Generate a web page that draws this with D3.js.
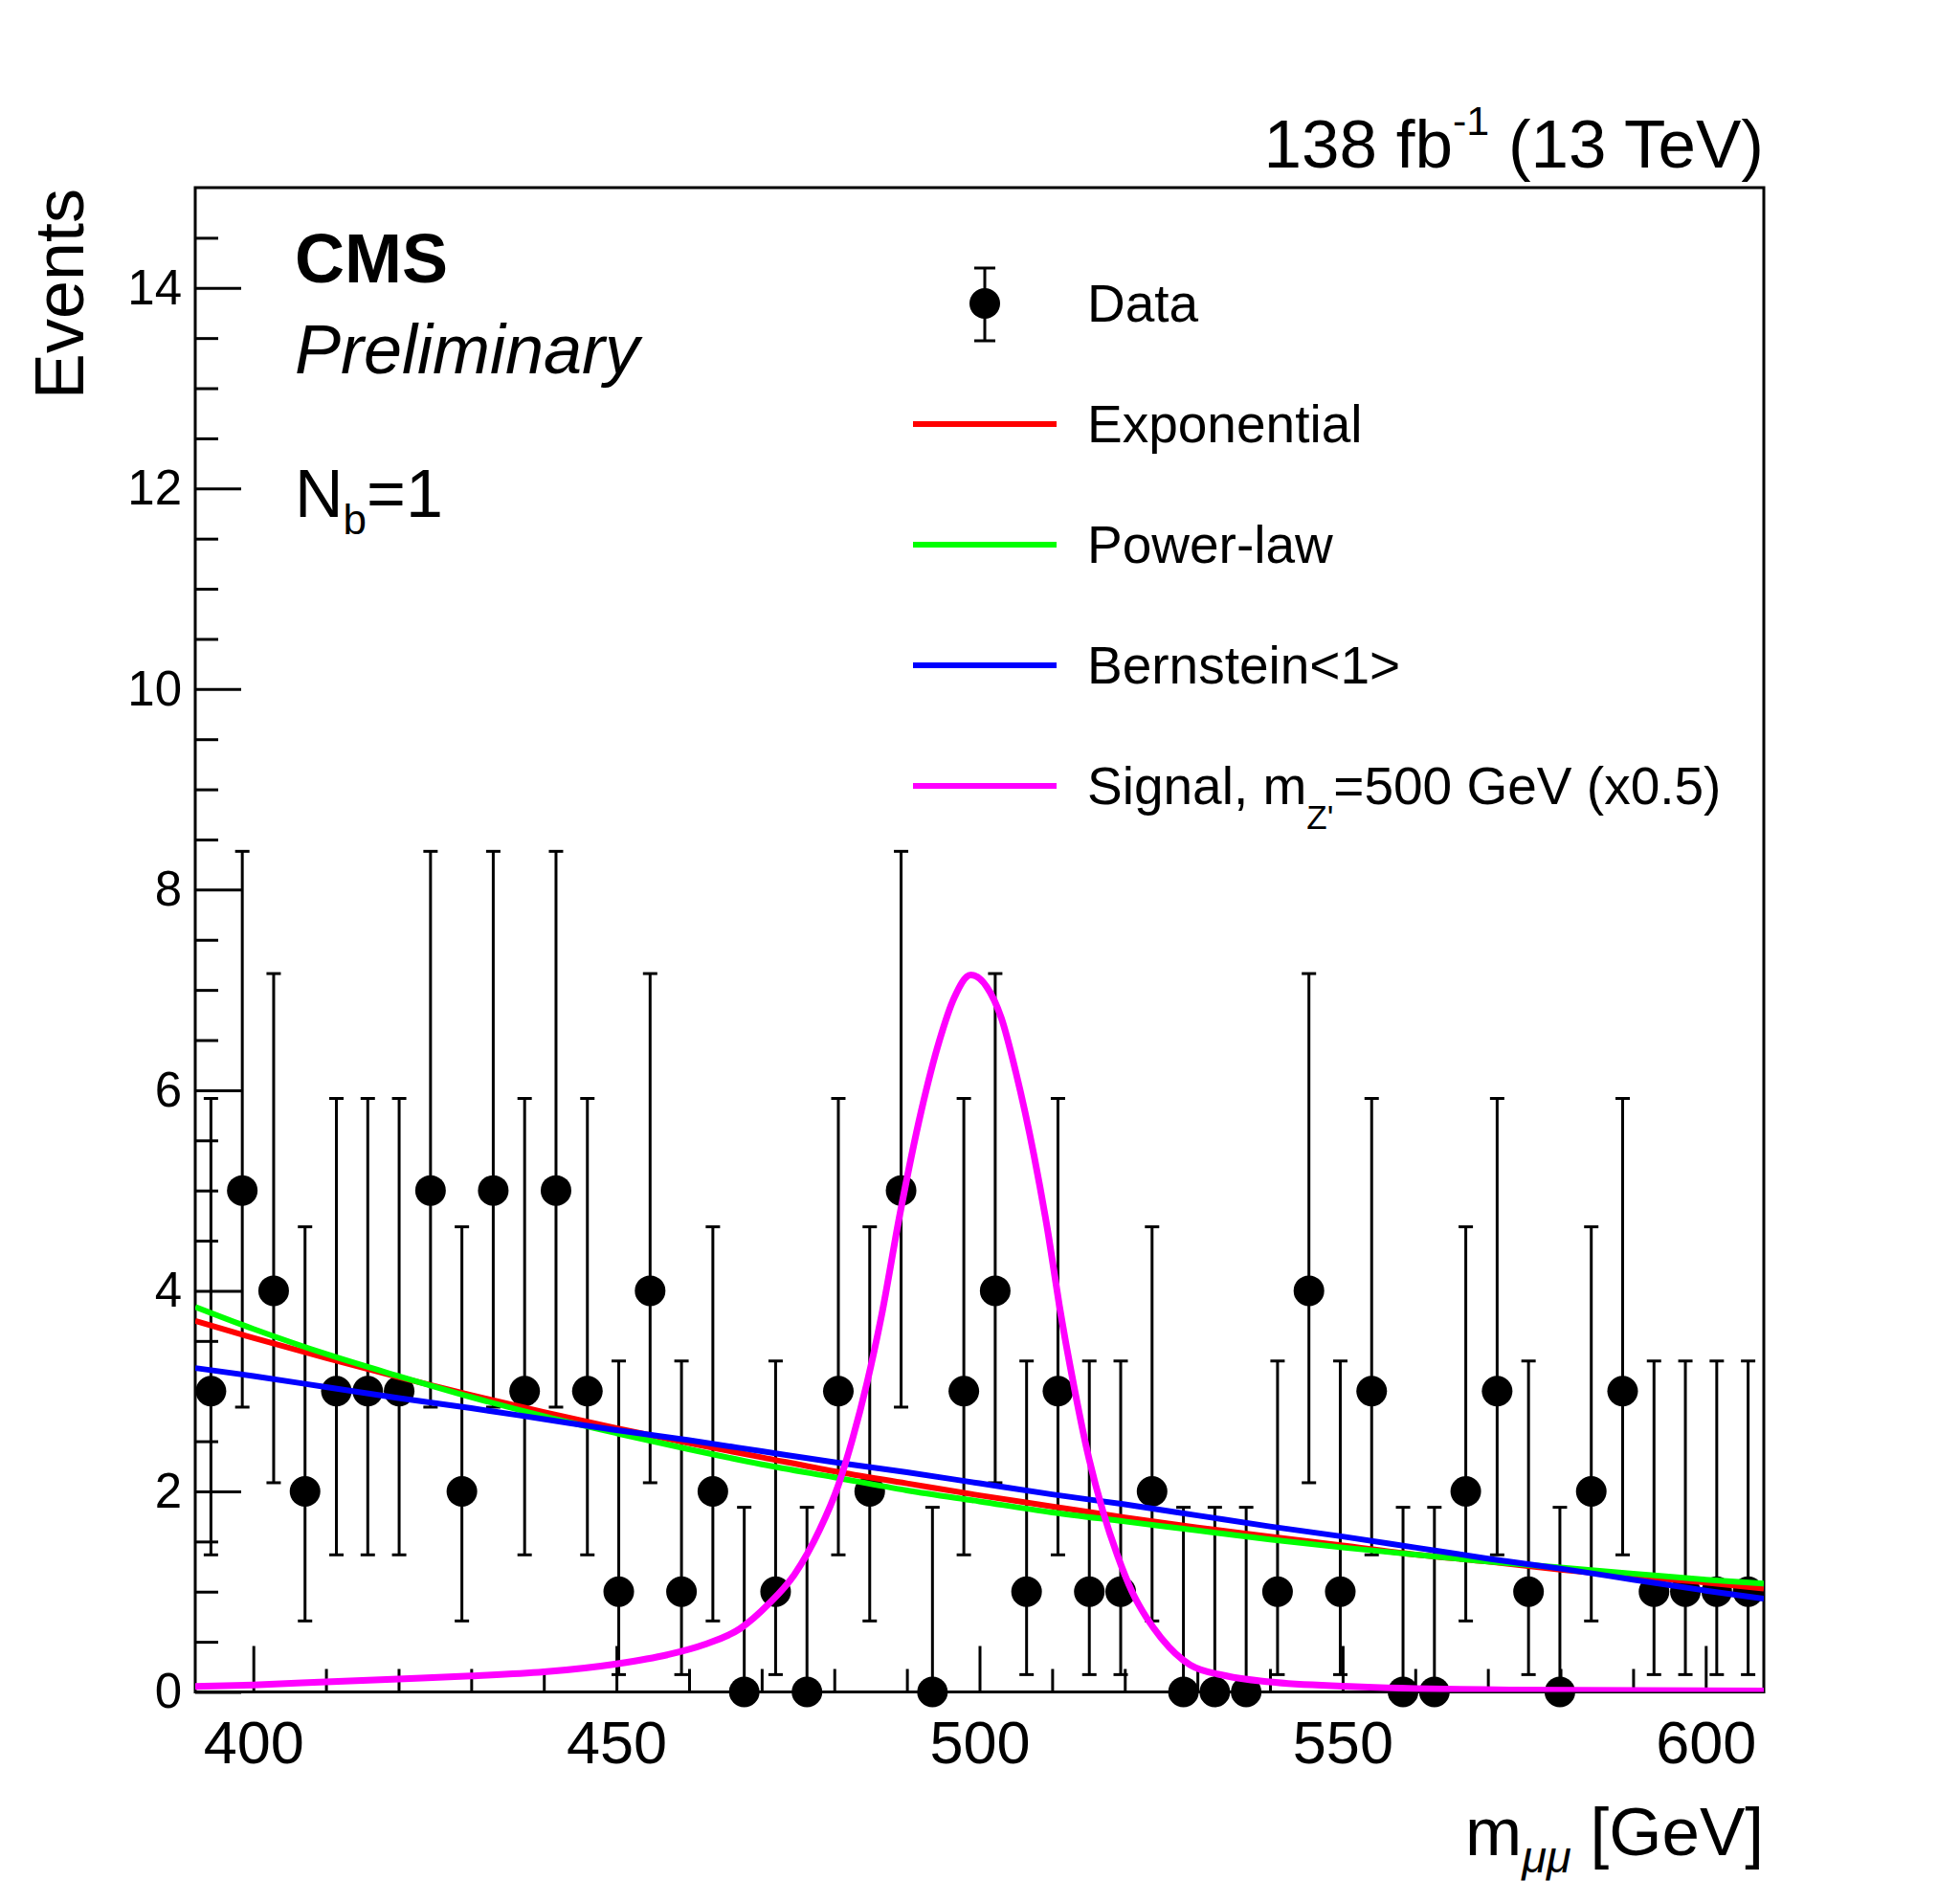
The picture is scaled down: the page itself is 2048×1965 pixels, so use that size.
<!DOCTYPE html>
<html><head><meta charset="utf-8">
<script src="https://cdn.jsdelivr.net/npm/d3@7"></script>
<style>
body{margin:0;background:#fff}
svg{display:block}
text{font-family:"Liberation Sans",Arimo,Arial,Helvetica,sans-serif;fill:#000}
</style>
</head><body>
<script>
// ---------------- data ----------------
const binCenters = [394.16,398.48,402.80,407.12,411.44,415.76,420.08,424.40,428.72,433.04,
  437.36,441.68,446.00,450.32,454.64,458.96,463.28,467.60,471.92,476.24,
  480.56,484.88,489.20,493.52,497.84,502.16,506.48,510.80,515.12,519.44,
  523.76,528.08,532.40,536.72,541.04,545.36,549.68,554.00,558.32,562.64,
  566.96,571.28,575.60,579.92,584.24,588.56,592.88,597.20,601.52,605.84];
const counts = [3,5,4,2,3,3,3,5,2,5, 3,5,3,1,4,1,2,0,1,0, 3,2,5,0,3,4,1,3,1,1,
  2,0,0,0,1,4,1,3,0,0, 2,3,1,0,2,3,1,1,1,1];
// Poisson (Garwood) 68% interval, indexed by observed count
const poissonLow  = [0, 0.173, 0.708, 1.367, 2.086, 2.840];
const poissonHigh = [1.841, 3.300, 4.638, 5.918, 7.163, 8.382];

const bgMass   = [392,400,410,420,430,440,450,460,470,480,490,500,510,520,530,540,550,560,570,580,590,600,608];
const expVals  = [3.70,3.53,3.33,3.14,2.96,2.79,2.63,2.48,2.34,2.20,2.08,1.96,1.85,1.74,1.64,1.55,1.46,1.37,1.30,1.22,1.15,1.09,1.03];
const powVals  = [3.84,3.62,3.37,3.15,2.94,2.75,2.58,2.42,2.27,2.14,2.01,1.90,1.79,1.70,1.61,1.52,1.44,1.37,1.30,1.24,1.18,1.12,1.08];
const bernVals = [3.23,3.15,3.04,2.93,2.83,2.72,2.61,2.51,2.40,2.29,2.19,2.08,1.97,1.87,1.76,1.65,1.55,1.44,1.33,1.23,1.12,1.01,0.93];

const sigMass = [392,400,410,420,430,440,450,457,462,467,471,474.5,478,480.5,482.5,484.5,486.5,489,492,494.5,496.5,498.8,
  501,503,505,507.5,509.5,511,513,515,517,519,521,523,525,529,534,540,551,573,608];
const sigVals = [0.055,0.07,0.10,0.13,0.16,0.20,0.28,0.37,0.47,0.63,0.88,1.17,1.62,2.05,2.52,3.08,3.75,4.75,5.80,6.50,6.92,7.15,
  7.03,6.72,6.18,5.35,4.55,3.85,3.05,2.35,1.80,1.36,1.00,0.74,0.54,0.27,0.16,0.10,0.055,0.02,0.01];

const xRange = [392, 608];
const yRange = [0, 15];
const xMajorTicks = [400,450,500,550,600];
const xMinorTicks = [410,420,430,440,460,470,480,490,510,520,530,540,560,570,580,590];
const yMajorTicks = [0,2,4,6,8,10,12,14];
const yMinorTicks = [0.5,1,1.5,2.5,3,3.5,4.5,5,5.5,6.5,7,7.5,8.5,9,9.5,10.5,11,11.5,12.5,13,13.5,14.5];

const series = [
  {name:"Exponential", vals:expVals,  color:"#ff0000"},
  {name:"Power-law",   vals:powVals,  color:"#00ff00"},
  {name:"Bernstein<1>",vals:bernVals, color:"#0000ff"}
];

// ---------------- layout ----------------
const W=2048, H=1965;
const L=204, R=1843, T=196, B=1767.5;
const svg = d3.select("body").append("svg").attr("width",W).attr("height",H);
svg.append("rect").attr("width",W).attr("height",H).attr("fill","#fff");

const x = d3.scaleLinear().domain(xRange).range([L,R]);
const y = d3.scaleLinear().domain(yRange).range([B,T]);

svg.append("defs").append("clipPath").attr("id","clip")
  .append("rect").attr("x",L).attr("y",T).attr("width",R-L).attr("height",B-T);

// frame
svg.append("rect").attr("x",L).attr("y",T).attr("width",R-L).attr("height",B-T)
  .attr("fill","none").attr("stroke","#000").attr("stroke-width",3);

// axes (ticks pointing inward)
function styleAxis(g){
  g.select(".domain").remove();
  g.selectAll(".tick line").attr("stroke","#000").attr("stroke-width",3);
}
const gxMaj = svg.append("g").attr("transform",`translate(0,${B})`)
  .call(d3.axisBottom(x).tickValues(xMajorTicks).tickSize(-48).tickPadding(30).tickFormat(d3.format("d")));
styleAxis(gxMaj);
gxMaj.selectAll(".tick text").attr("font-size",63).attr("font-family",null).attr("fill","#000");
const gxMin = svg.append("g").attr("transform",`translate(0,${B})`)
  .call(d3.axisBottom(x).tickValues(xMinorTicks).tickSize(-24).tickFormat(""));
styleAxis(gxMin);

const gyMaj = svg.append("g").attr("transform",`translate(${L},0)`)
  .call(d3.axisLeft(y).tickValues(yMajorTicks).tickSize(-48).tickPadding(14).tickFormat(d3.format("d")));
styleAxis(gyMaj);
gyMaj.selectAll(".tick text").attr("font-size",51).attr("font-family",null).attr("fill","#000");
const gyMin = svg.append("g").attr("transform",`translate(${L},0)`)
  .call(d3.axisLeft(y).tickValues(yMinorTicks).tickSize(-24).tickFormat(""));
styleAxis(gyMin);

// ---------------- data points ----------------
const data = binCenters.map((m,i)=>({m, n:counts[i], lo:poissonLow[counts[i]], hi:poissonHigh[counts[i]]}));
const gd = svg.append("g");
gd.selectAll("line.eb").data(data).enter().append("line")
  .attr("x1",d=>x(d.m)).attr("x2",d=>x(d.m))
  .attr("y1",d=>y(d.lo)).attr("y2",d=>y(d.hi))
  .attr("stroke","#000").attr("stroke-width",3);
gd.selectAll("line.capH").data(data).enter().append("line")
  .attr("x1",d=>x(d.m)-7.5).attr("x2",d=>x(d.m)+7.5)
  .attr("y1",d=>y(d.hi)).attr("y2",d=>y(d.hi))
  .attr("stroke","#000").attr("stroke-width",3);
gd.selectAll("line.capL").data(data.filter(d=>d.n>0)).enter().append("line")
  .attr("x1",d=>x(d.m)-7.5).attr("x2",d=>x(d.m)+7.5)
  .attr("y1",d=>y(d.lo)).attr("y2",d=>y(d.lo))
  .attr("stroke","#000").attr("stroke-width",3);
gd.selectAll("circle").data(data).enter().append("circle")
  .attr("cx",d=>x(d.m)).attr("cy",d=>y(d.n)).attr("r",16).attr("fill","#000");

// ---------------- curves ----------------
const gc = svg.append("g").attr("clip-path","url(#clip)");
const line = d3.line().x(d=>x(d[0])).y(d=>y(d[1])).curve(d3.curveMonotoneX);
series.forEach(s=>{
  gc.append("path").attr("d", line(bgMass.map((m,i)=>[m,s.vals[i]])))
    .attr("fill","none").attr("stroke",s.color).attr("stroke-width",6);
});
gc.append("path").attr("d", line(sigMass.map((m,i)=>[m,sigVals[i]])))
  .attr("fill","none").attr("stroke","#ff00ff").attr("stroke-width",7);

// ---------------- legend ----------------
const lg = svg.append("g");
const legX0=954, legX1=1104, legTx=1136;
const rowY = [317,443,569,695,821];
lg.append("line").attr("x1",(legX0+legX1)/2).attr("x2",(legX0+legX1)/2).attr("y1",280).attr("y2",356)
  .attr("stroke","#000").attr("stroke-width",3);
[280,356].forEach(v=>lg.append("line").attr("x1",(legX0+legX1)/2-11).attr("x2",(legX0+legX1)/2+11)
  .attr("y1",v).attr("y2",v).attr("stroke","#000").attr("stroke-width",3));
lg.append("circle").attr("cx",(legX0+legX1)/2).attr("cy",rowY[0]).attr("r",16).attr("fill","#000");
lg.append("text").attr("x",legTx).attr("y",rowY[0]+19).attr("font-size",55).text("Data");
const legItems = series.map(s=>({name:s.name,color:s.color})).concat([{name:"signal",color:"#ff00ff"}]);
legItems.forEach((it,i)=>{
  const yy = rowY[i+1];
  lg.append("line").attr("x1",legX0).attr("x2",legX1).attr("y1",yy).attr("y2",yy)
    .attr("stroke",it.color).attr("stroke-width",6);
  const t = lg.append("text").attr("x",legTx).attr("y",yy+19).attr("font-size",55);
  if(it.name==="signal"){
    t.append("tspan").text("Signal, m");
    t.append("tspan").attr("font-size",35).attr("dy",26).text("Z'");
    t.append("tspan").attr("dy",-26).text("=500 GeV (x0.5)");
  } else t.text(it.name);
});

// ---------------- texts ----------------
const lumi = svg.append("text").attr("x",R).attr("y",175).attr("text-anchor","end").attr("font-size",71);
lumi.append("tspan").text("138 fb");
lumi.append("tspan").attr("font-size",43).attr("dy",-34).text("-1");
lumi.append("tspan").attr("dy",34).text(" (13 TeV)");

svg.append("text").attr("x",308).attr("y",295).attr("font-size",72).attr("font-weight","bold").text("CMS");
svg.append("text").attr("x",308).attr("y",390).attr("font-size",72).attr("font-style","italic").text("Preliminary");
const nb = svg.append("text").attr("x",308).attr("y",540).attr("font-size",70);
nb.append("tspan").text("N");
nb.append("tspan").attr("font-size",44).attr("dy",18).text("b");
nb.append("tspan").attr("dy",-18).text("=1");

svg.append("text").attr("transform","translate(87,197) rotate(-90)").attr("text-anchor","end")
  .attr("font-size",72).text("Events");

const xl = svg.append("text").attr("x",R).attr("y",1938).attr("text-anchor","end").attr("font-size",71);
xl.append("tspan").text("m");
xl.append("tspan").attr("font-size",47).attr("font-style","italic").attr("dy",18).text("μμ");
xl.append("tspan").attr("dy",-18).text(" [GeV]");
</script>
</body></html>
